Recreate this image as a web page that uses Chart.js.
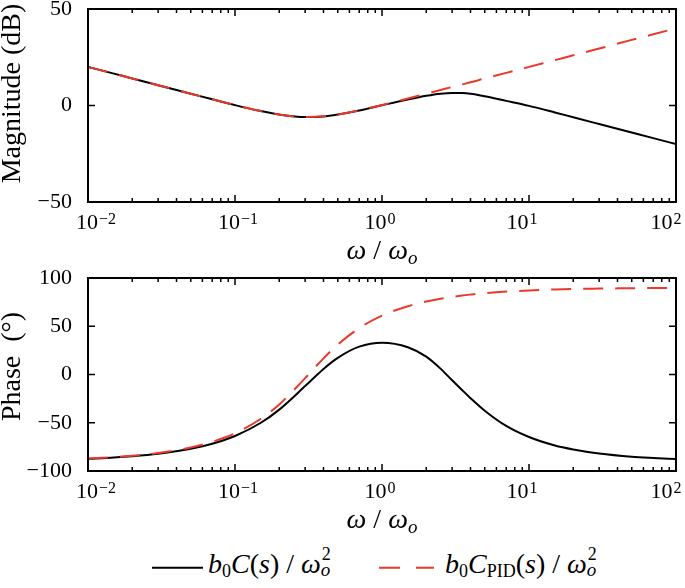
<!DOCTYPE html>
<html>
<head>
<meta charset="utf-8">
<script src="https://cdn.jsdelivr.net/npm/chart.js@4.4.1/dist/chart.umd.min.js"></script>
<style>
  html, body { margin: 0; padding: 0; background: #fff; }
  body { width: 685px; height: 588px; position: relative; overflow: hidden; font-family: "Liberation Serif", serif; }
  .panel { position: absolute; left: 0; width: 685px; height: 269px; }
  #legend { position: absolute; left: 0; top: 545px; width: 685px; height: 43px; }
  #legend svg { position: absolute; left: 0; top: 0; }
  .lab { position: absolute; top: 5px; font-size: 28px; line-height: 28px; white-space: nowrap; color: #000; }
  .sub { font-size: 18px; position: relative; top: 4px; }
  .ss { display: inline-block; position: relative; width: 11px; height: 0; }
  .ss .sp { position: absolute; left: 1px; top: -28px; font-size: 18px; line-height: 18px; }
  .ss .sb { position: absolute; left: 0; top: -13px; font-size: 19px; line-height: 19px; }
</style>
</head>
<body>
<canvas id="mag" class="panel" width="685" height="269" style="top:0"></canvas>
<canvas id="phase" class="panel" width="685" height="269" style="top:269px"></canvas>
<div id="legend">
  <svg width="685" height="43">
    <line x1="152" y1="22.7" x2="203" y2="22.7" stroke="#000" stroke-width="2"/>
    <line x1="379" y1="22.7" x2="434" y2="22.7" stroke="#e8392b" stroke-width="2" stroke-dasharray="21 16"/>
  </svg>
  <div class="lab" style="left:208px"><i>b</i><span class="sub">0</span><i>C</i>(<i>s</i>) / <i>ω</i><span class="ss"><span class="sp">2</span><span class="sb"><i>o</i></span></span></div>
  <div class="lab" style="left:445px"><i>b</i><span class="sub">0</span><i>C</i><span class="sub">PID</span>(<i>s</i>) / <i>ω</i><span class="ss"><span class="sp">2</span><span class="sb"><i>o</i></span></span></div>
</div>
<script>
// frequency points, omega / omega_o
const omega = [0.01, 0.015, 0.02, 0.03, 0.05, 0.07, 0.1, 0.15, 0.2, 0.3, 0.4, 0.5, 0.7, 1,
  1.5, 2, 2.5, 3, 3.5, 4, 5, 7, 10, 15, 20, 30, 50, 70, 100];

// magnitude (dB)
const magC = [20.0, 16.5, 14.0, 10.5, 6.1, 3.2, 0.2, -2.9, -4.7, -6.0, -5.7, -4.7, -2.6, 0.1,
  3.1, 5.0, 6.1, 6.5, 6.45, 6.1, 4.8, 2.4, -0.2, -3.6, -6.1, -9.6, -14.0, -16.9, -20.0];
const magPID = [20.0, 16.5, 14.0, 10.5, 6.1, 3.2, 0.25, -2.9, -4.7, -6.0, -5.6, -4.7, -2.5, 0.25,
  3.6, 6.1, 8.0, 9.6, 10.9, 12.0, 14.0, 16.9, 20.0, 23.5, 26.0, 29.5, 34.0, 36.9, 40.0];

// phase (deg)
const phaseC = [-87.4, -86.1, -84.8, -82.2, -77.0, -71.7, -63.7, -50.0, -36.4, -12.0, 5.8, 17.3, 28.9, 33.0,
  28.3, 18.5, 6.1, -6.0, -16.0, -24.5, -37.5, -53.3, -64.8, -73.6, -77.7, -81.9, -85.2, -86.5, -87.6];
const phasePID = [-87.1, -85.7, -84.3, -81.4, -75.6, -69.8, -61.0, -45.9, -31.0, -3.8, 16.7, 31.0, 48.1, 61.0,
  70.8, 75.6, 78.5, 80.4, 81.8, 82.8, 84.3, 85.9, 87.1, 88.1, 88.6, 89.0, 89.4, 89.6, 89.7];

// axis decades (10^d) for the x tick labels
const xDecades = [-2, -1, 0, 1, 2];

const RED = '#e8392b';
const SERIF = '"Liberation Serif", "Times New Roman", serif';

// frame, inward ticks, x tick labels and axis titles
const framePlugin = {
  id: 'frame',
  afterDraw(chart, args, opts) {
    const { ctx, chartArea: a, scales: { x, y } } = chart;
    ctx.save();
    ctx.strokeStyle = '#000';
    ctx.lineWidth = 2;
    ctx.strokeRect(a.left, a.top, a.right - a.left, a.bottom - a.top);

    ctx.lineWidth = 1.5;
    ctx.beginPath();
    xDecades.forEach(d => {
      for (let k = 1; k <= 9; k++) {
        const v = k * Math.pow(10, d);
        if (v > x.max * 1.0001) break;
        const px = x.getPixelForValue(v);
        const len = k === 1 ? 7 : 4;
        ctx.moveTo(px, a.bottom); ctx.lineTo(px, a.bottom - len);
        ctx.moveTo(px, a.top); ctx.lineTo(px, a.top + len);
      }
    });
    y.ticks.forEach(t => {
      const py = y.getPixelForValue(t.value);
      ctx.moveTo(a.left, py); ctx.lineTo(a.left + 7, py);
      ctx.moveTo(a.right, py); ctx.lineTo(a.right - 7, py);
    });
    ctx.stroke();

    // x tick labels: 10 with superscript exponent
    ctx.fillStyle = '#000';
    ctx.textBaseline = 'alphabetic';
    ctx.textAlign = 'left';
    const shift = [8, 3, -2, -7, -10];
    xDecades.forEach((d, i) => {
      const px = x.getPixelForValue(Math.pow(10, d));
      const exp = d < 0 ? '\u2212' + Math.abs(d) : String(d);
      ctx.font = '22px ' + SERIF;
      const w1 = ctx.measureText('10').width;
      ctx.font = '16px ' + SERIF;
      const w2 = ctx.measureText(exp).width;
      const left = px + shift[i] - (w1 + w2 + 1) / 2;
      ctx.font = '22px ' + SERIF;
      ctx.fillText('10', left, a.bottom + 26.5);
      ctx.font = '16px ' + SERIF;
      ctx.fillText(exp, left + w1 + 1, a.bottom + 21.5);
    });

    // x title: omega / omega_o
    const parts = [
      { t: '\u03c9', f: 'italic 28px ', dy: 0 },
      { t: ' / ', f: '28px ', dy: 0 },
      { t: '\u03c9', f: 'italic 28px ', dy: 0 },
      { t: 'o', f: 'italic 19px ', dy: 5 }
    ];
    let total = 0;
    parts.forEach(p => { ctx.font = p.f + SERIF; p.w = ctx.measureText(p.t).width; total += p.w; });
    let cx = (a.left + a.right) / 2 - total / 2;
    parts.forEach(p => {
      ctx.font = p.f + SERIF;
      ctx.fillText(p.t, cx, a.bottom + 57 + p.dy);
      cx += p.w;
    });

    // y title
    ctx.translate(13, (a.top + a.bottom) / 2 - opts.lift);
    ctx.rotate(-Math.PI / 2);
    ctx.font = '28px ' + SERIF;
    ctx.textAlign = 'center';
    ctx.textBaseline = 'middle';
    ctx.fillText(opts.title, 0, 0);
    ctx.restore();
  }
};

function makeChart(id, cData, pidData, yMin, yMax, title, lift) {
  const toXY = arr => omega.map((w, i) => ({ x: w, y: arr[i] }));
  return new Chart(document.getElementById(id), {
    type: 'line',
    data: {
      datasets: [
        {
          label: 'PID',
          data: toXY(pidData),
          borderColor: RED,
          borderWidth: 2,
          borderDash: [20, 12],
          pointRadius: 0,
          cubicInterpolationMode: 'monotone',
          fill: false
        },
        {
          label: 'C',
          data: toXY(cData),
          borderColor: '#000',
          borderWidth: 2,
          pointRadius: 0,
          cubicInterpolationMode: 'monotone',
          fill: false
        }
      ]
    },
    options: {
      responsive: false,
      animation: false,
      events: [],
      layout: { padding: { top: 9, right: 9, left: 0, bottom: 0 } },
      plugins: {
        legend: { display: false },
        tooltip: { enabled: false },
        frame: { title: title, lift: lift }
      },
      scales: {
        x: {
          type: 'logarithmic',
          min: 0.01,
          max: 100,
          grid: { display: false },
          border: { display: false },
          ticks: { display: false },
          afterFit: s => { s.height = 67; s.paddingLeft = 0; s.paddingRight = 0; }
        },
        y: {
          min: yMin,
          max: yMax,
          grid: { display: false },
          border: { display: false },
          ticks: {
            stepSize: 50,
            color: '#000',
            padding: 8,
            font: { family: SERIF, size: 22 },
            callback: v => (v < 0 ? '\u2212' + Math.abs(v) : String(v))
          },
          afterFit: s => { s.width = 88; s.paddingTop = 0; s.paddingBottom = 0; }
        }
      }
    },
    plugins: [framePlugin]
  });
}

makeChart('mag', magC, magPID, -50, 50, 'Magnitude (dB)', 12);
makeChart('phase', phaseC, phasePID, -100, 100, 'Phase  (\u00b0)', 8);
</script>
</body>
</html>
